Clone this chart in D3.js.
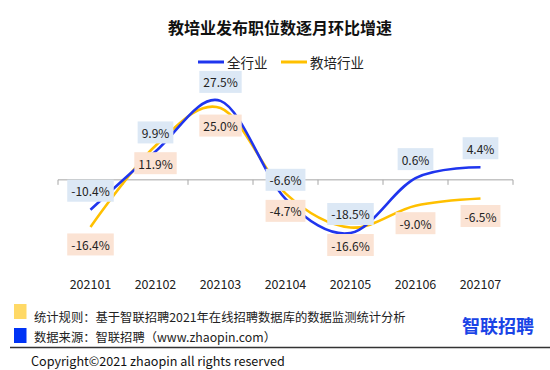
<!DOCTYPE html>
<html>
<head>
<meta charset="utf-8">
<script src="https://cdn.jsdelivr.net/npm/d3@7"></script>
<style>
  body { margin: 0; background: #fff; }
  svg { display: block; font-family: "Noto Sans CJK SC", "Noto Sans", sans-serif; }
</style>
</head>
<body>
<svg id="chart" width="550" height="370"></svg>
<script>
// Chart data
const months = ["202101", "202102", "202103", "202104", "202105", "202106", "202107"];
const allIndustry = [-10.4, 9.9, 27.5, -6.6, -18.5, 0.6, 4.4];
const eduIndustry = [-16.4, 11.9, 25.0, -4.7, -16.6, -9.0, -6.5];
const seriesNames = ["全行业", "教培行业"];
const footNotes = ["统计规则：基于智联招聘2021年在线招聘数据库的数据监测统计分析", "数据来源：智联招聘（www.zhaopin.com）"];

const BLUE = "#1f35ee";
const YELLOW = "#ffc000";

const svg = d3.select("#chart");

// Scales
const x = d3.scaleBand().domain(months).range([58, 513]);
const y = d3.scaleLinear().domain([-30, 40]).range([266, 65]);
const cx = d => x(d) + x.bandwidth() / 2;

// Title
svg.append("text")
  .attr("x", 280).attr("y", 27)
  .attr("text-anchor", "middle").attr("dominant-baseline", "central")
  .attr("font-size", "16px").attr("font-weight", "bold").attr("fill", "#111")
  .text("教培业发布职位数逐月环比增速");

// Legend
const legend = [
  {name: seriesNames[0], color: BLUE, x: 198},
  {name: seriesNames[1], color: YELLOW, x: 281}
];
legend.forEach(l => {
  svg.append("line")
    .attr("x1", l.x).attr("x2", l.x + 26)
    .attr("y1", 62).attr("y2", 62)
    .attr("stroke", l.color).attr("stroke-width", 3);
  svg.append("text")
    .attr("x", l.x + 29).attr("y", 62)
    .attr("dominant-baseline", "central")
    .attr("font-size", "13.5px").attr("fill", "#222")
    .text(l.name);
});

// Horizontal axis at zero with ticks on band boundaries
const axisY = y(0);
svg.append("line")
  .attr("x1", x.range()[0]).attr("x2", x.range()[1])
  .attr("y1", axisY).attr("y2", axisY)
  .attr("stroke", "#a6a6a6").attr("stroke-width", 1);
svg.selectAll(".tick-mark")
  .data(months.map(m => x(m)).concat([x.range()[1]]))
  .enter().append("line")
  .attr("class", "tick-mark")
  .attr("x1", d => d).attr("x2", d => d)
  .attr("y1", axisY).attr("y2", axisY + 5)
  .attr("stroke", "#a6a6a6").attr("stroke-width", 1);

// Category labels (low position)
svg.selectAll(".month-label")
  .data(months)
  .enter().append("text")
  .attr("class", "month-label")
  .attr("x", d => cx(d)).attr("y", 283)
  .attr("text-anchor", "middle").attr("dominant-baseline", "central")
  .attr("font-size", "12.5px").attr("fill", "#222")
  .text(d => d);

// Smoothed lines
const line = d3.line()
  .x((d, i) => cx(months[i]))
  .y(d => y(d))
  .curve(d3.curveCardinal.tension(0));

svg.append("path").datum(eduIndustry)
  .attr("fill", "none").attr("stroke", YELLOW).attr("stroke-width", 2.6)
  .attr("d", line);
svg.append("path").datum(allIndustry)
  .attr("fill", "none").attr("stroke", BLUE).attr("stroke-width", 2.6)
  .attr("d", line);

// Data labels with coloured boxes
function drawLabels(values, offset, fill) {
  values.forEach((v, i) => {
    const g = svg.append("g")
      .attr("transform", `translate(${cx(months[i])},${y(v) + offset})`);
    const rect = g.append("rect");
    const t = g.append("text")
      .attr("text-anchor", "middle").attr("dominant-baseline", "central")
      .attr("font-size", "12px").attr("fill", "#222")
      .text(v.toFixed(1) + "%");
    const bb = t.node().getBBox();
    rect.attr("x", bb.x - 4).attr("y", -11)
      .attr("width", bb.width + 8).attr("height", 22)
      .attr("fill", fill);
  });
}
drawLabels(allIndustry, -19, "#dce8f5");
drawLabels(eduIndustry, 17.5, "#fbe3d4");

// Footer notes
const noteColors = ["#ffd966", "#0033f5"];
footNotes.forEach((n, i) => {
  svg.append("rect")
    .attr("x", 14).attr("y", 304 + i * 24)
    .attr("width", 12.5).attr("height", 15)
    .attr("fill", noteColors[i]);
  svg.append("text")
    .attr("x", 34).attr("y", 317 + i * 20)
    .attr("dominant-baseline", "central")
    .attr("font-size", "12.3px").attr("fill", "#222")
    .text(n);
});

// Logo
svg.append("text")
  .attr("x", 462).attr("y", 325)
  .attr("dominant-baseline", "central")
  .attr("font-size", "18px").attr("font-weight", "bold").attr("fill", "#1a44e6")
  .text("智联招聘");

svg.append("line")
  .attr("x1", 10).attr("x2", 550)
  .attr("y1", 347.5).attr("y2", 347.5)
  .attr("stroke", "#333").attr("stroke-width", 1.3);

svg.append("text")
  .attr("x", 31).attr("y", 360)
  .attr("dominant-baseline", "central")
  .attr("font-size", "12.6px").attr("fill", "#111")
  .text("Copyright©2021 zhaopin all rights reserved");
</script>
</body>
</html>
